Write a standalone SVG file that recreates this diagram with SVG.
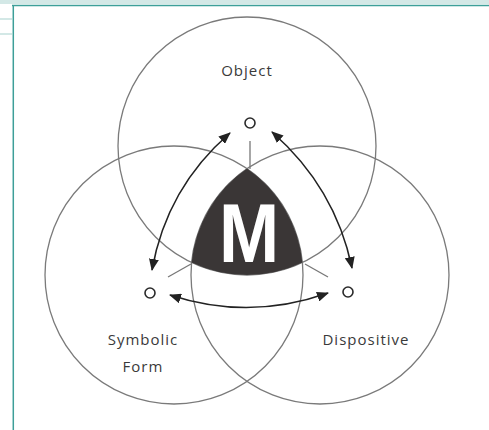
<svg xmlns="http://www.w3.org/2000/svg" width="489" height="430" viewBox="0 0 489 430">
<style>
.ring{fill:none;stroke:#7a7a7a;stroke-width:1.3}
.tick{fill:none;stroke:#777;stroke-width:1.3}
.dot{fill:#fff;stroke:#2a2a2a;stroke-width:1.6}
.arr{fill:none;stroke:#222;stroke-width:1.6;marker-end:url(#ah);marker-start:url(#ah)}
.lbl{font-family:"Open Sans","DejaVu Sans",sans-serif;font-size:15px;fill:#3a3a3a;text-anchor:middle;letter-spacing:1px}
</style>
<defs>
<marker id="ah" viewBox="0 0 12 10" refX="11" refY="5" markerWidth="12" markerHeight="10" markerUnits="userSpaceOnUse" orient="auto-start-reverse">
<path d="M0,0 L12,5 L0,10 z" fill="#222"/>
</marker>
</defs>
<rect x="0" y="0" width="489" height="430" fill="#fff"/>
<g id="frame">
<rect x="0" y="0" width="489" height="4" fill="#d3e8e6"/>
<line x1="12" y1="5.5" x2="489" y2="5.5" stroke="#3d9f99" stroke-width="1.5"/>
<line x1="13.3" y1="5" x2="13.3" y2="430" stroke="#3d9f99" stroke-width="1.5"/>
<line x1="0" y1="19" x2="12" y2="19" stroke="#d3e8e6" stroke-width="2"/>
<line x1="0" y1="34" x2="12" y2="34" stroke="#d3e8e6" stroke-width="2"/>
</g>
<g id="object-circle"><circle class="ring" cx="247" cy="146" r="129"/></g>
<g id="symbolic-circle"><circle class="ring" cx="174" cy="275" r="129"/></g>
<g id="dispositive-circle"><circle class="ring" cx="320" cy="275" r="129"/></g>
<g id="center-m">
<path d="M247,168.6 A129,129 0 0 0 191.6,262.5 A129,129 0 0 0 302.4,262.5 A129,129 0 0 0 247,168.6 Z" fill="#3a3636"/>
<text x="0" y="0" transform="translate(249,262) scale(0.86,1)" font-family="'Liberation Sans',Arial,sans-serif" font-weight="bold" font-size="84" fill="#fff" text-anchor="middle">M</text>
</g>
<g id="ticks">
<line class="tick" x1="250" y1="141" x2="250" y2="169"/>
<line class="tick" x1="168" y1="277" x2="191" y2="264"/>
<line class="tick" x1="305" y1="264" x2="328" y2="277"/>
</g>
<g id="object-node"><circle class="dot" cx="250" cy="123" r="5"/><text class="lbl" x="247" y="76">Object</text></g>
<g id="symbolic-node"><circle class="dot" cx="150" cy="293" r="5"/><text class="lbl" x="143" y="345">Symbolic</text><text class="lbl" x="143" y="372">Form</text></g>
<g id="dispositive-node"><circle class="dot" cx="348" cy="292" r="5"/><text class="lbl" x="366" y="345">Dispositive</text></g>
<g id="connectors">
<path class="arr" d="M230,133 Q166.7,187.6 152,270"/>
<path class="arr" d="M272,132 Q335.3,187.6 352,268"/>
<path class="arr" d="M170,295 Q249,321 328,293"/>
</g>
</svg>
